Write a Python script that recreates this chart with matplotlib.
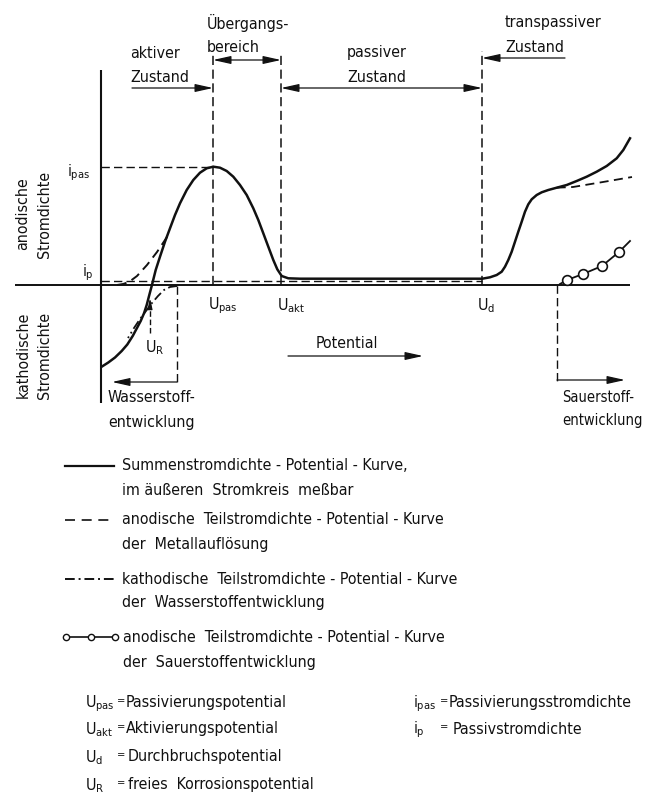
import matplotlib
matplotlib.use("Agg")
import matplotlib.pyplot as plt
from matplotlib import font_manager
from matplotlib.font_manager import FontProperties
from matplotlib.lines import Line2D

# ---------------------------------------------------------------------------
# Characteristic potentials (arbitrary potential units) and current densities
# ---------------------------------------------------------------------------
U_R = 4.9       # free corrosion potential
U_H2 = 7.6      # upper end of hydrogen evolution
U_pas = 11.2    # passivation potential
U_akt = 18.0    # activation potential
U_d = 38.1      # breakdown potential
U_O2 = 45.6     # onset of oxygen evolution
i_pas = 11.8    # passivation current density
i_p = 0.45      # passive current density

# total current density - potential curve (measured in the external circuit)
sum_U = [0.07, 0.73, 1.4, 2.07, 2.63, 3.17, 3.57, 3.97, 4.3, 4.57, 4.83, 5.07,
         5.47, 5.9, 6.4, 6.9, 7.4, 7.9, 8.57, 9.23, 9.9, 10.57, 11.23,
         11.9, 12.57, 13.23, 13.9, 14.57, 15.23, 15.73, 16.23, 16.73, 17.23,
         17.63, 18.07, 18.73, 19.9,
         38.13, 38.9, 39.57, 40.07, 40.4, 40.73, 41.07, 41.4, 41.73, 42.07,
         42.4, 42.73, 43.07, 43.57, 44.07, 44.73, 45.57, 46.57, 47.57, 48.57,
         49.57, 50.57, 51.57, 52.23, 52.9]
sum_i = [-8.17, -7.75, -7.25, -6.6, -5.95, -5.1, -4.35, -3.6, -2.83, -2.0,
         -1.0, -0.1,
         1.5, 2.83, 4.33, 5.67, 7.0, 8.17, 9.5, 10.5, 11.23, 11.67, 11.83,
         11.73, 11.4, 10.83, 10.0, 9.0, 7.67, 6.5, 5.17, 3.83, 2.5,
         1.57, 0.9, 0.67, 0.63,
         0.63, 0.77, 1.0, 1.33, 1.83, 2.5, 3.33, 4.33, 5.33, 6.33,
         7.33, 8.07, 8.57, 9.0, 9.27, 9.5, 9.73, 10.0, 10.4, 10.83,
         11.33, 11.9, 12.67, 13.5, 14.67]

# anodic partial current density of metal dissolution (active range)
metal_U = [1.6, 2.2, 2.8, 3.6, 4.6, 5.6, 6.8]
metal_i = [0.0, 0.1, 0.3, 0.9, 2.0, 3.3, 5.1]

# anodic partial current density of metal dissolution (transpassive range)
trans_U = [45.57, 47.2, 50.2, 53.1]
trans_i = [9.73, 9.8, 10.3, 10.8]

# cathodic partial current density of hydrogen evolution
h2_U = [7.6, 6.9, 6.3, 5.7, 5.1, 4.5, 3.9, 3.3, 2.7]
h2_i = [-0.1, -0.2, -0.5, -1.1, -1.8, -2.6, -3.4, -4.3, -5.3]

# anodic partial current density of oxygen evolution
o2_U = [45.9, 46.6, 48.2, 50.1, 51.8, 52.9]
o2_i = [0.1, 0.5, 1.1, 1.9, 3.3, 4.4]
o2_marked = [1, 2, 3, 4]

# ---------------------------------------------------------------------------
# Fonts: a narrow sans serif, sized from the width of a sample word
# ---------------------------------------------------------------------------
ttf = font_manager.fontManager.ttflist


def has(name, stretch=None):
    return any(f.name == name and (stretch is None or f.stretch == stretch)
               for f in ttf)


if has("Liberation Sans Narrow"):
    FAM, STRETCH = "Liberation Sans Narrow", "normal"
elif has("DejaVu Sans", "condensed"):
    FAM, STRETCH = "DejaVu Sans", "condensed"
elif has("Roboto Condensed"):
    FAM, STRETCH = "Roboto Condensed", "normal"
elif has("Liberation Sans"):
    FAM, STRETCH = "Liberation Sans", "normal"
else:
    FAM, STRETCH = "DejaVu Sans", "normal"

plt.rcParams["font.family"] = [FAM, "DejaVu Sans"]
plt.rcParams["font.stretch"] = STRETCH
plt.rcParams["mathtext.fontset"] = "custom"
plt.rcParams["mathtext.rm"] = FAM
plt.rcParams["mathtext.it"] = FAM
plt.rcParams["mathtext.bf"] = FAM

W, H = 645, 801
fig = plt.figure(figsize=(W / 100, H / 100), dpi=100)
fig.patch.set_facecolor("white")
renderer = fig.canvas.get_renderer()


def size_for(sample, width_px):
    prop = FontProperties(family=FAM, stretch=STRETCH, size=10)
    w, _, _ = renderer.get_text_width_height_descent(sample, prop, ismath=False)
    return 10 * width_px / w


FS = size_for("Potential", 62.5)
FS_LEG = FS
FS_RIGHT = min(FS, size_for("entwicklung", 80))

ax = fig.add_axes([0, 0, 1, 1])
ax.set_xlim(-10.1, 54.4)
ax.set_ylim(-51.6, 28.5)
ax.axis("off")

K = "#111111"

# coordinate axes
ax.plot([0, 0], [21.5, -11.8], color=K, lw=1.5, solid_capstyle="butt")
ax.plot([-8.6, 52.9], [0, 0], color=K, lw=1.4, solid_capstyle="butt")

# reference lines for the characteristic values
vdash = dict(color=K, lw=1.1, linestyle=(0, (6, 3)))
ax.plot([U_pas, U_pas], [0, 23.0], **vdash)
ax.plot([U_akt, U_akt], [0, 23.0], **vdash)
ax.plot([U_d, U_d], [0, 23.4], **vdash)
ax.plot([0, U_pas], [i_pas, i_pas], color=K, lw=1.0, linestyle=(0, (6, 3)))
ax.plot([0, U_d], [i_p, i_p], color=K, lw=1.0, linestyle=(0, (6, 3)))
ax.plot([U_H2, U_H2], [-0.1, -9.8], color=K, lw=1.0, linestyle=(0, (6, 3)))
ax.plot([U_O2, U_O2], [0, -10.0], color=K, lw=1.0, linestyle=(0, (6, 3)))

# curves
ax.plot(sum_U, sum_i, color=K, lw=1.8, solid_joinstyle="round")
ax.plot(metal_U, metal_i, color=K, lw=1.4, linestyle=(0, (5, 3)))
ax.plot(trans_U, trans_i, color=K, lw=1.3, linestyle=(0, (5, 3)))
ax.plot(h2_U, h2_i, color=K, lw=1.3, linestyle=(0, (5, 2, 1, 2)))
ax.plot(o2_U, o2_i, color=K, lw=1.3)
ax.plot([o2_U[k] for k in o2_marked], [o2_i[k] for k in o2_marked], "o",
        ms=7, mfc="white", mec=K, mew=1.2)


# range arrows
def arrow(x0, y0, x1, y1, style="-|>", scale=12):
    ax.annotate("", xy=(x1, y1), xytext=(x0, y0),
                arrowprops=dict(arrowstyle=style + ",head_length=0.9,head_width=0.2",
                                lw=0.9, color=K, shrinkA=0, shrinkB=0,
                                mutation_scale=scale))


arrow(3.1, 19.7, U_pas, 19.7)
arrow(U_pas, 22.5, U_akt, 22.5, "<|-|>")
arrow(U_akt, 19.7, U_d, 19.7, "<|-|>")
arrow(46.4, 22.7, U_d, 22.7)
arrow(18.7, -7.1, 32.2, -7.1)
arrow(U_H2, -9.7, 1.1, -9.7)
arrow(U_O2, -9.5, 52.4, -9.5)
ax.plot([U_R, U_R], [-4.8, -1.9], color=K, lw=1.0, linestyle=(0, (4, 2)))
arrow(U_R, -2.0, U_R, -1.3, scale=7)


# labels in the diagram
def t(x, y, s, **kw):
    kw.setdefault("fontsize", FS)
    kw.setdefault("ha", "left")
    kw.setdefault("va", "center")
    ax.text(x, y, s, color=K, **kw)


t(2.9, 23.2, "aktiver")
t(2.9, 20.7, "Zustand")
t(10.6, 26.2, "Übergangs-")
t(10.6, 23.8, "bereich")
t(24.6, 23.2, "passiver")
t(24.6, 20.8, "Zustand")
t(40.4, 26.2, "transpassiver")
t(40.4, 23.8, "Zustand")

t(-7.8, 7.1, "anodische", rotation=90, ha="center")
t(-5.6, 7.1, "Stromdichte", rotation=90, ha="center")
t(-7.8, -7.0, "kathodische", rotation=90, ha="center")
t(-5.6, -7.0, "Stromdichte", rotation=90, ha="center")

t(-3.4, i_pas - 0.6, r"$i_{pas}$")
t(-1.9, i_p + 0.8, r"$i_{p}$")
t(U_pas - 0.5, -2.1, r"$U_{pas}$")
t(U_akt - 0.4, -2.1, r"$U_{akt}$")
t(U_d - 0.5, -2.1, r"$U_{d}$")
t(U_R - 0.5, -6.3, r"$U_{R}$")
t(24.6, -5.8, "Potential", ha="center")
t(0.7, -11.3, "Wasserstoff-")
t(0.7, -13.7, "entwicklung")
t(46.1, -11.3, "Sauerstoff-", fontsize=FS_RIGHT)
t(46.1, -13.6, "entwicklung", fontsize=FS_RIGHT)


# ---------------------------------------------------------------------------
# Key to the line styles
# ---------------------------------------------------------------------------
def fx(x):
    return x / W


def fy(y):
    return 1 - y / H


def ft(x, y, s, **kw):
    kw.setdefault("fontsize", FS_LEG)
    fig.text(fx(x), fy(y), s, ha="left", va="center", color=K, **kw)


def key_line(y, **kw):
    fig.add_artist(Line2D([fx(65), fx(114)], [fy(y), fy(y)], color=K, **kw))


key_line(466, lw=1.6)
ft(122, 466, "Summenstromdichte - Potential - Kurve,")
ft(122, 490, "im äußeren  Stromkreis  meßbar")

key_line(520, lw=1.2, linestyle=(0, (6, 4)))
ft(122, 520, "anodische  Teilstromdichte - Potential - Kurve")
ft(122, 545, "der  Metallauflösung")

key_line(579, lw=1.4, linestyle=(0, (5, 2, 1, 2)))
ft(122, 579, "kathodische  Teilstromdichte - Potential - Kurve")
ft(122, 603, "der  Wasserstoffentwicklung")

fig.add_artist(Line2D([fx(66), fx(115)], [fy(637), fy(637)], color=K, lw=1.2))
fig.add_artist(Line2D([fx(66), fx(90.5), fx(115)], [fy(637)] * 3, linestyle="none",
                      marker="o", ms=4.5, mfc="white", mec=K, mew=1.0))
ft(123, 637, "anodische  Teilstromdichte - Potential - Kurve")
ft(123, 662, "der  Sauerstoffentwicklung")

# symbols
EQ = FS_LEG * 0.7
ft(85, 704, r"$U_{pas}$")
ft(117, 701, "=", fontsize=EQ)
ft(126, 703, "Passivierungspotential")
ft(85, 730, r"$U_{akt}$")
ft(117, 727, "=", fontsize=EQ)
ft(126, 729, "Aktivierungspotential")
ft(85, 758, r"$U_{d}$")
ft(117, 755, "=", fontsize=EQ)
ft(128, 757, "Durchbruchspotential")
ft(85, 786, r"$U_{R}$")
ft(117, 783, "=", fontsize=EQ)
ft(128, 785, "freies  Korrosionspotential")

ft(413, 704, r"$i_{pas}$")
ft(440, 701, "=", fontsize=EQ)
ft(449, 703, "Passivierungsstromdichte")
ft(413, 730, r"$i_{p}$")
ft(440, 727, "=", fontsize=EQ)
ft(453, 729, "Passivstromdichte")

fig.savefig("out.png", dpi=100, facecolor="white")
